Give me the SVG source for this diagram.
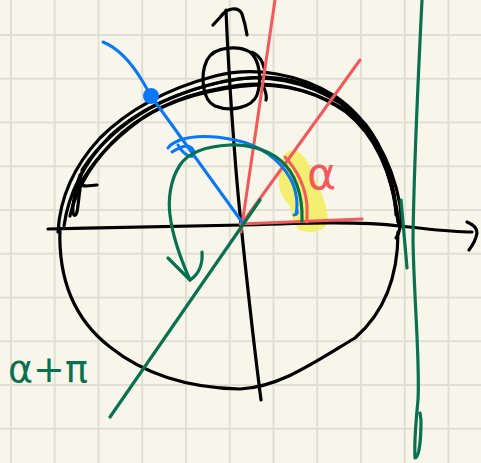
<svg xmlns="http://www.w3.org/2000/svg" width="481" height="463" viewBox="0 0 481 463">
<style>
.grid{stroke:#e1dfd3;stroke-width:2;fill:none}
.k{stroke:#000;stroke-width:3.2;fill:none;stroke-linecap:round;stroke-linejoin:round}
.b{stroke:#0a78f5;stroke-width:3;fill:none;stroke-linecap:round;stroke-linejoin:round}
.g{stroke:#09714f;stroke-width:3.2;fill:none;stroke-linecap:round;stroke-linejoin:round}
.r{stroke:#f2595a;stroke-width:3;fill:none;stroke-linecap:round;stroke-linejoin:round}
.t{font-family:"DejaVu Sans","Noto Sans",sans-serif}
</style>
<rect width="481" height="463" fill="#f8f6ea"/>
<g id="grid" class="grid">
<path d="M11,0V463M54.75,0V463M98.5,0V463M142.25,0V463M186,0V463M229.75,0V463M273.5,0V463M317.25,0V463M361,0V463M404.75,0V463M448.5,0V463"/>
<path d="M0,35H481M0,78.75H481M0,122.5H481M0,166.25H481M0,210H481M0,253.75H481M0,297.5H481M0,341.25H481M0,385H481M0,428.75H481"/>
</g>
<g id="highlight">
<path d="M289,151 C299,148 307,158 311,170 C318,186 326,200 328,218 C329,230 315,234 302,231 C293,228 292,215 290,206 C283,199 278,190 279,180 C280,168 281,154 289,151 Z" fill="#f4ef70"/>
</g>
<g id="circle">
<path class="k" d="M58,232 C60,195 75,165 100,138 C130,108 170,88 215,76 C255,66 300,74 335,96 C368,118 392,160 400,205 C402,220 400,232 396,238"/>
<path class="k" d="M64,226 C69,190 85,162 110,136 C140,108 180,91 225,81 C265,73 305,81 340,103 C370,125 390,165 396,210"/>
<path class="k" d="M70,216 C77,185 95,158 122,133 C152,107 192,91 240,85 C280,81 316,91 346,112 C375,135 392,170 398,222"/>
<path class="k" d="M78,188 C90,165 110,142 140,120 C170,100 210,88 258,85 C300,85 336,100 360,122 C382,145 394,180 399,226"/>
<path class="k" d="M82,170 C95,150 115,128 150,108 C185,90 225,78 265,77 C305,78 340,96 366,125 C384,148 395,185 396,215"/>
<path class="k" d="M80,175 C76,190 70,210 74,215 C78,218 78,200 80,190"/>
<path class="k" d="M82,172 C79,180 80,186 86,186 L97,185"/>
<path class="k" d="M60,228 C58,280 75,320 110,347 C145,375 190,388 240,389 C280,387 315,362 355,338 C385,312 398,275 398,232"/>
<path class="k" d="M250,52 C240,46 215,45 207,60 C200,75 202,100 215,106 C230,112 252,108 257,95 C262,80 260,60 250,52 C255,52 262,58 264,68"/>
<path class="k" d="M264,88 C266,93 267,97 266,100"/>
</g>
<g id="axes">
<path class="k" d="M48,229 C120,227 200,226 242,225 C300,223 360,221 400,226 C430,229 450,232 472,232"/>
<path class="k" d="M467,222 C472,224 477,228 477,233 C476,240 472,246 469,250"/>
<path class="k" d="M226,10 C228,60 232,120 236,170 C240,220 252,330 261,400"/>
<path class="k" d="M213,25 L226,11 M221,16 C227,8 238,6 242,14 C244,20 246,28 247,35"/>
</g>
<g id="red">
<path class="r" d="M241,232 L275,0"/>
<path class="r" d="M243,222 L360,60"/>
<path class="r" d="M240,224 L362,219"/>
<path class="r" d="M285,157 C297,170 305,185 307,205 L307,222"/>
</g>
<g id="blue">
<path class="b" d="M103,42 C118,48 130,60 143,82 L151,96 L242,222"/>
<circle cx="151" cy="96" r="8" fill="#0a78f5"/>
<path class="b" d="M296,214 C298,205 297,190 290,178 C280,160 260,145 235,140 C215,136 195,135 180,140 C175,142 170,145 168,148"/>
<path class="b" d="M178,145 C180,150 188,158 193,156 C196,152 192,146 186,146 C180,147 175,150 172,152"/>
<path class="b" d="M297,210 C298,213 297,215 294,215"/>
</g>
<g id="green">
<path class="g" d="M110,417 L260,200"/>
<path class="g" d="M302,221 C303,195 295,172 280,160 C265,148 245,144 230,145 C210,146 190,150 180,165 C170,180 168,200 170,215 C173,240 182,262 190,280"/>
<path class="g" d="M168,258 C175,265 183,273 190,280 M202,252 C203,265 198,275 190,280"/>
<path class="g" d="M401,200 L407,268"/>
<path class="g" d="M422,0 C418,80 414,160 413,240 C414,300 420,360 418,400 C416,420 414,440 415,458 C419,458 421,440 421,420 L420,413"/>
</g>
<g id="labels">
<text class="t" x="307" y="189" font-size="44" fill="#f2595a">α</text>
<text class="t" x="8" y="382" font-size="38" fill="#09714f">α+π</text>
</g>
</svg>
